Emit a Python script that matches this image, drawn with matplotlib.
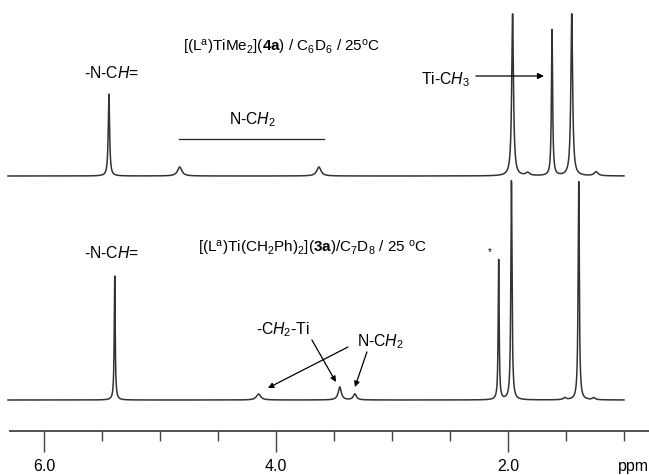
import numpy as np
import matplotlib
matplotlib.use("Agg")
import matplotlib.pyplot as plt
from matplotlib.ticker import MultipleLocator

plt.rcParams['font.family'] = ['Liberation Sans', 'DejaVu Sans']
plt.rcParams['mathtext.fontset'] = 'custom'
plt.rcParams['mathtext.rm'] = 'Liberation Sans'
plt.rcParams['mathtext.it'] = 'Liberation Sans:italic'
plt.rcParams['mathtext.bf'] = 'Liberation Sans:bold'

# 1H NMR signals of [(La)TiMe2] (4a) in C6D6: shift (ppm), height, half width (ppm)
shift_4a = [5.44, 4.83, 3.63, 1.96, 1.83, 1.62, 1.45, 1.24]
height_4a = [82, 9, 9, 162, 3, 146, 162, 4]
width_4a = [0.007, 0.022, 0.022, 0.009, 0.02, 0.006, 0.009, 0.02]

# 1H NMR signals of [(La)Ti(CH2Ph)2] (3a) in C7D8
shift_3a = [5.39, 4.15, 3.45, 3.32, 2.08, 1.97, 1.51, 1.39, 1.26]
height_3a = [124, 6, 13, 6, 140, 219, 2, 219, 2]
width_3a = [0.005, 0.022, 0.016, 0.016, 0.005, 0.006, 0.015, 0.006, 0.015]

# vertical offsets of the two stacked traces
offset_4a = 255
offset_3a = 31

major_ticks = [6.0, 4.0, 2.0]
tick_labels = ['6.0', '4.0', '2.0']

ppm = np.linspace(6.31, 1.0, 8000)


def spectrum(shifts, heights, widths):
    y = np.zeros_like(ppm)
    for c, h, w in zip(shifts, heights, widths):
        y += h / (1.0 + ((ppm - c) / w) ** 2)
    return y


fig = plt.figure(figsize=(6.49, 4.75), dpi=100)
ax = fig.add_axes([0, 44 / 475, 1, 431 / 475])
ax.set_xlim(6.379, 0.784)
ax.set_ylim(0, 431)

line_kw = dict(color='#333333', lw=1.1, solid_joinstyle='round')
ax.plot(ppm, offset_4a + spectrum(shift_4a, height_4a, width_4a), **line_kw)
ax.plot(ppm, offset_3a + spectrum(shift_3a, height_3a, width_3a), **line_kw)

# axis styling
for side in ('top', 'left', 'right'):
    ax.spines[side].set_visible(False)
ax.spines['bottom'].set_color('#444444')
ax.spines['bottom'].set_linewidth(1.3)
ax.spines['bottom'].set_bounds(0.784, 6.293)
ax.set_yticks([])
ax.set_xticks(major_ticks, tick_labels)
ax.xaxis.set_minor_locator(MultipleLocator(0.5))
ax.tick_params(axis='x', which='major', direction='out', length=15, width=1.0,
               color='#444444', pad=5, labelsize=11.5)
ax.tick_params(axis='x', which='minor', direction='out', length=7.2, width=1.0,
               color='#444444')
ax.text(0.922, -35, 'ppm', ha='center', va='center', fontsize=11.5, clip_on=False)

title_kw = dict(ha='center', va='center', fontsize=11, color='black')
txt = dict(ha='center', va='center', fontsize=11.3, color='black')

# upper trace labels
ax.text(3.948, 384, r'[(L$^{\mathrm{a}}$)TiMe$_2$]($\mathbf{4a}$) / C$_6$D$_6$ / 25$^{\mathrm{o}}$C', **title_kw)
ax.text(5.414, 358, r'-N-C$H$=', **txt)
ax.text(4.207, 311, r'N-C$H_2$', **txt)
ax.plot([4.836, 3.586], [292, 292], color='#222222', lw=0.9)
ax.text(2.33, 351, r'Ti-C$H_3$', ha='right', va='center', fontsize=11.3)
ax.annotate('', xy=(1.69, 355), xytext=(2.276, 355),
            arrowprops=dict(arrowstyle='-|>', color='black', lw=0.9,
                            mutation_scale=9, shrinkA=0, shrinkB=0))

# lower trace labels
ax.text(5.414, 178, r'-N-C$H$=', **txt)
ax.text(3.681, 183, r'[(L$^{\mathrm{a}}$)Ti(CH$_2$Ph)$_2$]($\mathbf{3a}$)/C$_7$D$_8$ / 25 $^{\mathrm{o}}$C', **title_kw)
ax.text(2.155, 179, '*', ha='center', va='center', fontsize=7)
ax.text(3.94, 101, r'-C$H_2$-Ti', **txt)
ax.text(3.103, 89, r'N-C$H_2$', **txt)

arrow_kw = dict(arrowstyle='-|>', color='black', lw=0.9, mutation_scale=8,
                shrinkA=0, shrinkB=0)
ax.annotate('', xy=(3.483, 49), xytext=(3.69, 91), arrowprops=arrow_kw)
ax.annotate('', xy=(4.069, 43), xytext=(3.379, 84), arrowprops=arrow_kw)
ax.annotate('', xy=(3.319, 44), xytext=(3.216, 79), arrowprops=arrow_kw)

fig.savefig('out.png', dpi=100)
